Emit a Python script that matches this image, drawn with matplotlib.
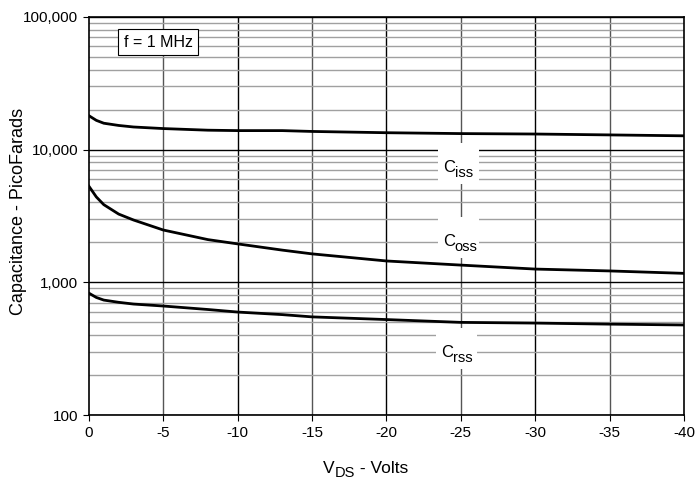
import matplotlib
matplotlib.use('Agg')
import matplotlib.pyplot as plt
from matplotlib.patches import Rectangle
from matplotlib.transforms import ScaledTranslation
from matplotlib.ticker import FixedLocator, FuncFormatter, LogLocator, NullFormatter

plt.rcParams['font.family'] = ['Liberation Sans', 'DejaVu Sans']

vds = [0, -0.5, -1, -2, -3, -5, -8, -10, -13, -15, -20, -25, -30, -35, -40]
ciss = [18000, 16600, 15800, 15200, 14800, 14400, 14000, 13900, 13900, 13700, 13400, 13200, 13100, 12900, 12700]
coss = [5300, 4400, 3850, 3270, 2950, 2480, 2100, 1950, 1750, 1640, 1450, 1350, 1260, 1220, 1170]
crss = [830, 770, 736, 708, 687, 664, 625, 598, 572, 550, 525, 500, 494, 485, 478]

x_ticks = [0, -5, -10, -15, -20, -25, -30, -35, -40]

# curve labels: (subscript, x, y)
curve_labels = [('iss', -24.6, 6790), ('oss', -24.6, 1880), ('rss', -24.5, 274)]

fig = plt.figure(figsize=(7, 4.8), dpi=100)
ax = fig.add_axes([0.127, 0.135, 0.85, 0.83])

ax.set_yscale('log')
ax.set_ylim(100, 100000)
ax.set_xlim(0, -40)

# grid lines: decades black, minor gray; vertical alternate gray / black
ax.yaxis.set_major_locator(FixedLocator([100, 1000, 10000, 100000]))
ax.yaxis.set_minor_locator(LogLocator(base=10, subs=range(2, 10)))
ax.yaxis.set_minor_formatter(NullFormatter())
ax.yaxis.set_major_formatter(FuncFormatter(lambda v, p: '{:,.0f}'.format(v)))
ax.grid(which='major', axis='y', color='black', lw=1)
ax.grid(which='minor', axis='y', color='#a0a0a0', lw=1)
for i, xv in enumerate(x_ticks[1:-1]):
    ax.axvline(xv, color='#555555' if i % 2 == 0 else 'black', lw=1, zorder=1)

ax.set_xticks(x_ticks)
ax.set_xticklabels([str(v) for v in x_ticks])
ax.tick_params(axis='both', which='major', direction='out', length=4, labelsize=11)
ax.tick_params(axis='y', which='minor', length=0)

for s in ax.spines.values():
    s.set_color('black')
    s.set_linewidth(1.2)

for series in (ciss, coss, crss):
    ax.plot(vds, series, color='black', lw=2, zorder=3)

for sub, xv, yv in curve_labels:
    # white patch behind the label, sized in inches around the anchor point
    tr = fig.dpi_scale_trans + ScaledTranslation(xv, yv, ax.transData)
    ax.add_patch(Rectangle((-0.17, -0.12), 0.41, 0.41, transform=tr,
                           facecolor='white', edgecolor='none', zorder=2.5))
    c = ax.text(xv, yv, 'C', ha='right', va='baseline', fontsize=12, zorder=4)
    ax.annotate(sub, xy=(1, 0), xycoords=c, xytext=(0, -3.5), textcoords='offset points',
                ha='left', va='bottom', fontsize=10.5, zorder=4)

ax.text(0.059, 0.936, 'f = 1 MHz', transform=ax.transAxes, fontsize=11.5, zorder=5,
        va='center', ha='left',
        bbox=dict(facecolor='white', edgecolor='black', lw=0.8, pad=4))

fig.text(0.026, 0.56, 'Capacitance - PicoFarads', rotation=90, ha='center', va='center',
         fontsize=13)

v = fig.text(323 / 700, 0.014, 'V', ha='left', va='baseline', fontsize=12.5)
ds = ax.annotate('DS', xy=(1, 0), xycoords=v, xytext=(0.3, -3), textcoords='offset points',
                 ha='left', va='bottom', fontsize=10.5, annotation_clip=False)
ax.annotate(' - Volts', xy=(1, 0), xycoords=ds, xytext=(0, 3), textcoords='offset points',
            ha='left', va='bottom', fontsize=12.5, annotation_clip=False)

fig.savefig('out.png', dpi=100)
